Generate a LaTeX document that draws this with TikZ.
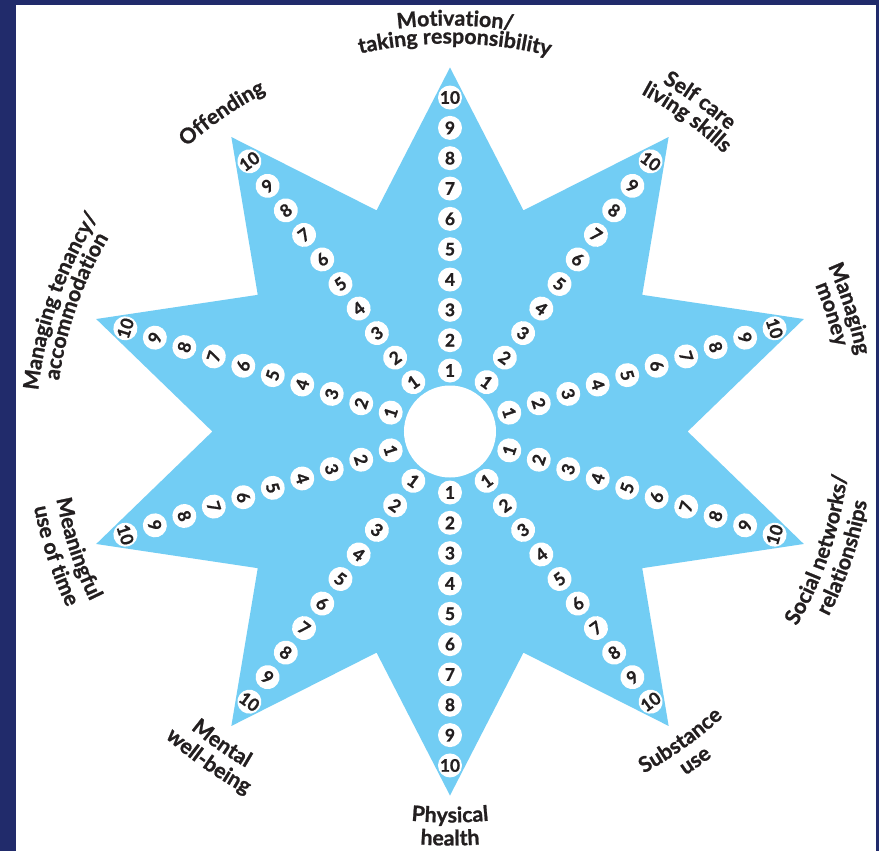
\documentclass[tikz,border=0pt]{standalone}
\usepackage{fontspec}
\setmainfont{Lato}
\newfontfamily\heavyfont{Lato}[BoldFeatures={FakeBold=1.0}]
\usetikzlibrary{decorations.text}
\definecolor{navy}{HTML}{212B6B}
\definecolor{starblue}{HTML}{72CDF4}
\definecolor{ink}{HTML}{231F20}
\newcommand\lblfont{\heavyfont\fontsize{16}{18}\selectfont\bfseries}
\newcommand\numfont{\heavyfont\fontsize{13}{14}\selectfont\bfseries}
\begin{document}
\begin{tikzpicture}[x=0.7665pt, y=0.75pt,
  numdot/.style={circle, fill=white, inner sep=0pt, minimum size=18pt, text=ink, font=\numfont},
  hub/.style={circle, fill=white, inner sep=0pt, minimum size=69pt},
  arclbl/.style={decorate, decoration={text along path, text align=center, text color=ink, text={|\lblfont|#1}}}]
\useasboundingbox (-337.5pt,-314.625pt) rectangle (321.75pt,323.625pt);
\fill[white] (-337.5pt,-314.625pt) rectangle (321.75pt,323.625pt);
\fill[navy] (-337.5pt,-314.625pt) rectangle (-325.5pt,323.625pt);
\fill[navy] (-337.5pt,319.875pt) rectangle (321.75pt,323.625pt);
\fill[navy] (319.5pt,-314.625pt) rectangle (321.75pt,323.625pt);
% star
\fill[starblue] (90:364) \foreach \i in {0,...,9} { -- ({72-36*\i}:232.5) -- ({54-36*\i}:364) } -- cycle;
\node[hub] (hub) at (0,0) {};
% numbers
\foreach \a/\r [count=\j] in {90/0, 54/-36, 18/-72, -18/72, -54/36, -90/0, -126/-36, -162/-72, 162/72, 126/36} {
  \foreach \k in {1,...,10} {
    \node[numdot, rotate=\r] (n\j-\k) at (\a:{61+30.33*(\k-1)}) {\k};
  }
}
% upper labels (clockwise arcs)
\path[arclbl={Motivation/}] (129.3:406) arc[start angle=129.3, end angle=49.3, radius=406];
\path[arclbl={taking responsibility}] (129.3:388) arc[start angle=129.3, end angle=49.3, radius=388];
\path[arclbl={Self care}] (93.3:406) arc[start angle=93.3, end angle=13.3, radius=406];
\path[arclbl={living skills}] (93.3:386) arc[start angle=93.3, end angle=13.3, radius=386];
\path[arclbl={Managing}] (57.3:405) arc[start angle=57.3, end angle=-22.7, radius=405];
\path[arclbl={money}] (57.3:386) arc[start angle=57.3, end angle=-22.7, radius=386];
\path[arclbl={Managing tenancy/}] (201.3:405) arc[start angle=201.3, end angle=121.3, radius=405];
\path[arclbl={accommodation}] (201.3:386) arc[start angle=201.3, end angle=121.3, radius=386];
\path[arclbl={Offending}] (165.3:384) arc[start angle=165.3, end angle=85.3, radius=384];
% lower labels (counter-clockwise arcs)
\path[arclbl={Social networks/}] (-58:391) arc[start angle=-58, end angle=22, radius=391];
\path[arclbl={relationships}] (-58:414) arc[start angle=-58, end angle=22, radius=414];
\path[arclbl={Substance}] (-93.7:391) arc[start angle=-93.7, end angle=-13.7, radius=391];
\path[arclbl={use}] (-93.7:414) arc[start angle=-93.7, end angle=-13.7, radius=414];
\path[arclbl={Physical}] (-130:391) arc[start angle=-130, end angle=-50, radius=391];
\path[arclbl={health}] (-130:414) arc[start angle=-130, end angle=-50, radius=414];
\path[arclbl={Mental}] (-165.8:391) arc[start angle=-165.8, end angle=-85.8, radius=391];
\path[arclbl={well-being}] (-165.8:414) arc[start angle=-165.8, end angle=-85.8, radius=414];
\path[arclbl={Meaningful}] (-202.3:391) arc[start angle=-202.3, end angle=-122.3, radius=391];
\path[arclbl={use of time}] (-202.3:414) arc[start angle=-202.3, end angle=-122.3, radius=414];
\end{tikzpicture}
\end{document}
